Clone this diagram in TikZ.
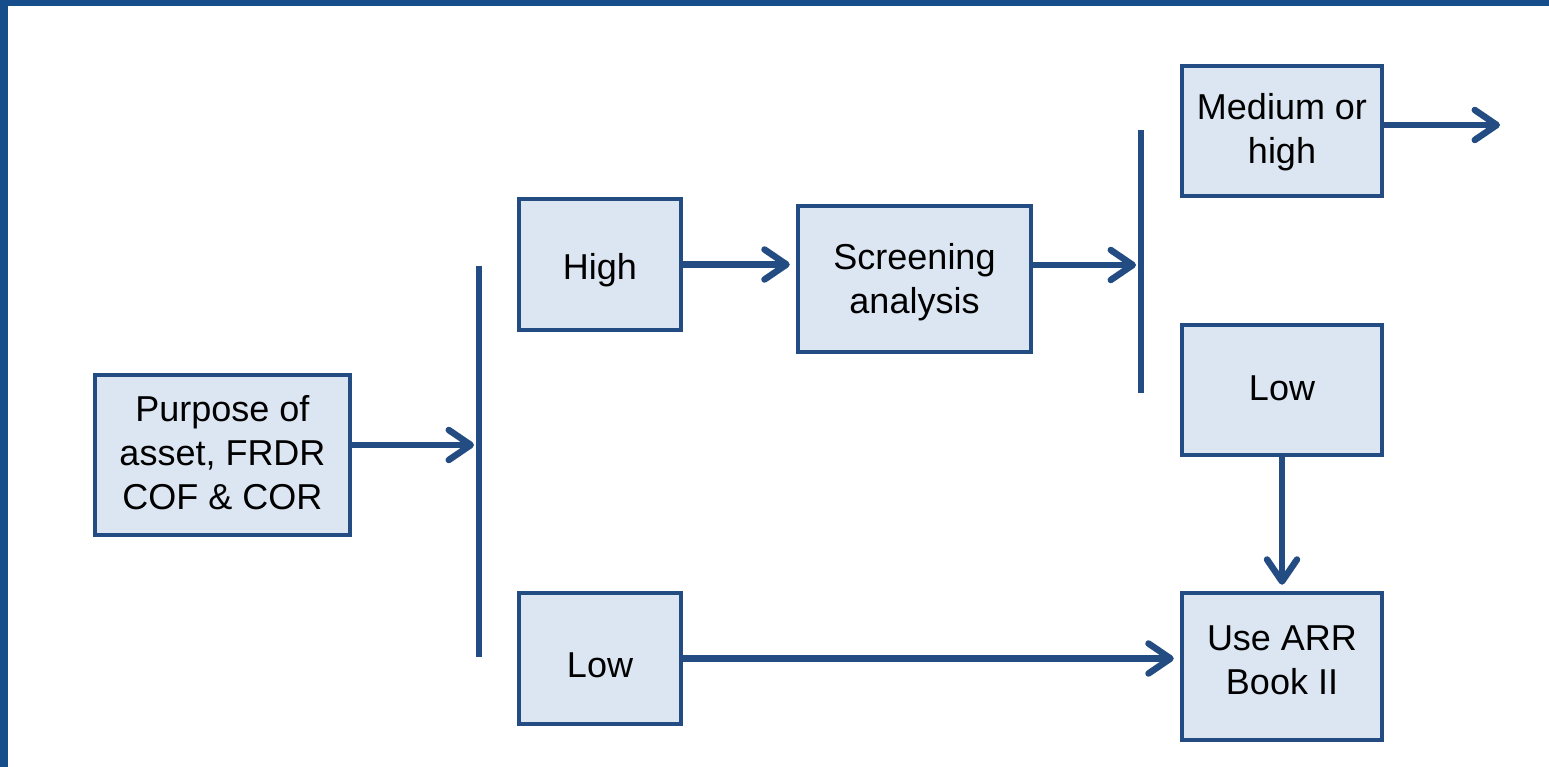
\documentclass[tikz,border=0pt]{standalone}
\usepackage{fontspec}
\setmainfont{Liberation Sans}
\usetikzlibrary{arrows.meta}
\definecolor{frameblue}{HTML}{154E8A}
\definecolor{linkblue}{HTML}{234C82}
\definecolor{boxfill}{HTML}{DCE6F2}
% centred lines of a box label, lifted by #1 without changing the label's size
\newcommand\stagetext[2]{\raisebox{#1}[\height][\depth]{\begin{tabular}{@{}c@{}}#2\end{tabular}}}
\begin{document}
\begin{tikzpicture}[x=1pt,y=-1pt,
  stagebox/.style={draw=linkblue, fill=boxfill, line width=4.5pt,
    inner sep=0pt, font=\fontsize{36}{44}\selectfont},
  flow/.style={draw=linkblue, line width=6.5pt,
    -{Straight Barb[length=22pt,width=30pt,round]}},
  splitbar/.style={draw=linkblue, line width=6.5pt}]
  % page and frame
  \useasboundingbox (0,0) rectangle (1549,767);
  \fill[white] (0,0) rectangle (1549,767);
  \fill[frameblue] (0,0) rectangle (1549,6);
  \fill[frameblue] (0,0) rectangle (8,767);

  % stages
  \node[stagebox, minimum width=255pt, minimum height=160pt] (purpose) at (222.5,455) {\stagetext{-2pt}{Purpose of\\asset, FRDR\\COF \& COR}};
  \node[stagebox, minimum width=162pt, minimum height=131pt] (high) at (600,264.5) {\stagetext{-6pt}{High}};
  \node[stagebox, minimum width=162pt, minimum height=131pt] (lowA) at (600,658.5) {\stagetext{-10pt}{Low}};
  \node[stagebox, minimum width=233pt, minimum height=146pt] (screen) at (914.5,279) {\stagetext{-4pt}{Screening\\analysis}};
  \node[stagebox, minimum width=200pt, minimum height=130pt] (medhigh) at (1282,131) {\stagetext{-2pt}{Medium or\\high}};
  \node[stagebox, minimum width=200pt, minimum height=130pt] (lowB) at (1282,390) {\stagetext{-2pt}{Low}};
  \node[stagebox, minimum width=200pt, minimum height=147pt] (arr) at (1282,666.5) {\stagetext{3pt}{Use ARR\\Book II}};

  % split bars
  \coordinate (barAtop) at (479,266);
  \coordinate (barAbot) at (479,657);
  \coordinate (barBtop) at (1141,130);
  \coordinate (barBbot) at (1141,393);
  \draw[splitbar] (barAtop) -- (barAbot);
  \draw[splitbar] (barBtop) -- (barBbot);

  % connectors
  \coordinate (next) at (1500,125);
  \draw[flow, shorten >=5pt] ([yshift=10pt]purpose.east) -- ([yshift=10pt]purpose.east -| barAtop);
  \draw[flow, shorten >=6pt] (high.east) -- (high.east -| screen.west);
  \draw[flow, shorten >=5pt] ([yshift=14pt]screen.east) -- ([yshift=14pt]screen.east -| barBtop);
  \draw[flow] ([yshift=6pt]medhigh.east) -- ([yshift=6pt]medhigh.east -| next);
  \draw[flow, shorten >=6pt] (lowB.south) -- (arr.north);
  \draw[flow, shorten >=6pt] (lowA.east) -- (lowA.east -| arr.west);
\end{tikzpicture}
\end{document}
